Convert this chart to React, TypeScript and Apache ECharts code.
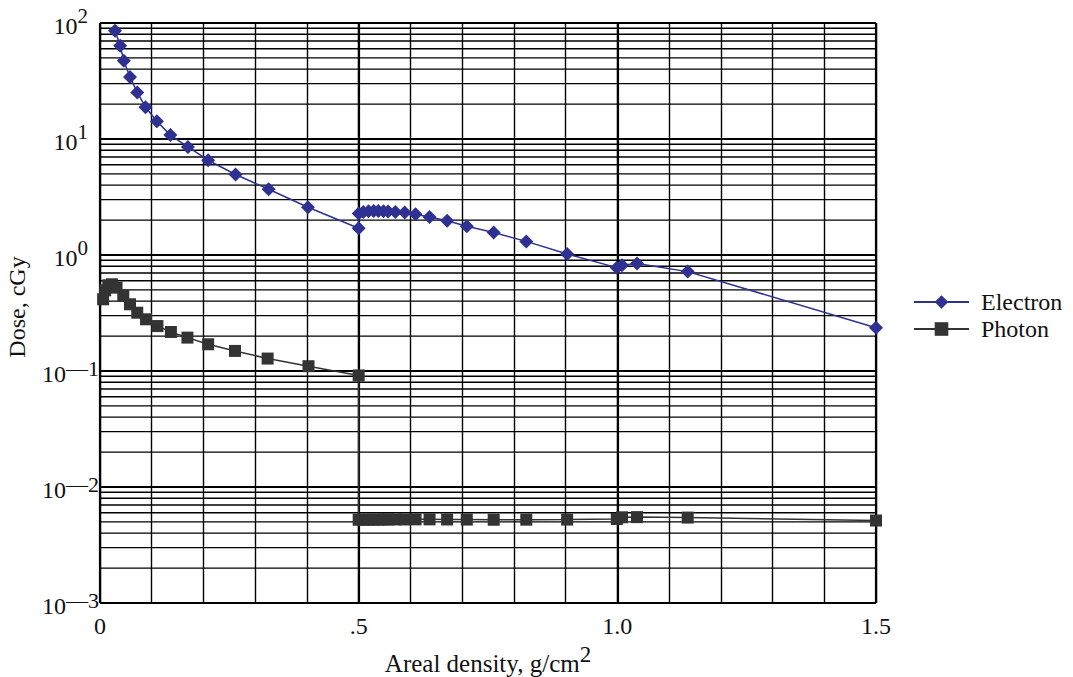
import React, { useEffect, useRef } from "react";
import * as echarts from "echarts";

// Electron dose (cGy) vs areal density (g/cm^2)
const electronX = [0.029, 0.039, 0.046, 0.058, 0.072, 0.088, 0.110, 0.136, 0.170, 0.209, 0.262, 0.326, 0.402, 0.500,
  0.500, 0.509, 0.519, 0.529, 0.538, 0.548, 0.557, 0.571, 0.589, 0.610, 0.637, 0.671, 0.709, 0.761, 0.824, 0.903,
  0.999, 1.009, 1.038, 1.136, 1.500];
const electronY = [85.7, 63.6, 47.2, 34.3, 25.2, 18.8, 14.2, 10.8, 8.55, 6.56, 4.94, 3.69, 2.58, 1.70,
  2.28, 2.35, 2.38, 2.40, 2.40, 2.38, 2.37, 2.35, 2.32, 2.24, 2.13, 1.97, 1.77, 1.56, 1.31, 1.02,
  0.778, 0.815, 0.843, 0.719, 0.236];

// Photon dose (cGy) vs areal density (g/cm^2)
const photonX = [0.006, 0.010, 0.016, 0.023, 0.032, 0.045, 0.058, 0.072, 0.089, 0.111, 0.137, 0.169, 0.209, 0.261,
  0.324, 0.403, 0.500,
  0.500, 0.509, 0.519, 0.529, 0.538, 0.548, 0.557, 0.571, 0.589, 0.610, 0.637, 0.671, 0.709, 0.761, 0.824, 0.903,
  0.999, 1.009, 1.038, 1.136, 1.500];
const photonY = [0.415, 0.496, 0.548, 0.559, 0.523, 0.443, 0.376, 0.318, 0.279, 0.244, 0.217, 0.194, 0.170, 0.149,
  0.128, 0.110, 0.0916,
  0.00522, 0.00522, 0.00523, 0.00523, 0.00524, 0.00524, 0.00525, 0.00525, 0.00525, 0.00526, 0.00526, 0.00525,
  0.00524, 0.00522, 0.00523, 0.00524,
  0.00530, 0.00548, 0.00550, 0.00545, 0.00514];

// Log-scale minor gridlines: multipliers 2..9 within each decade
const minorMultipliers = [2, 3, 4, 5, 6, 7, 8, 9];
const decadeExponents = [-3, -2, -1, 0, 1];

const xTickLabels: Record<string, string> = { "0": "0", "0.5": ".5", "1": "1.0", "1.5": "1.5" };

const SERIF = "Liberation Serif";

export default function App() {
  const ref = useRef<HTMLDivElement>(null);

  useEffect(() => {
    if (!ref.current) return;
    const chart = echarts.init(ref.current, null, { renderer: "svg" });

    const minorValues: number[] = [];
    decadeExponents.forEach((e) => {
      minorMultipliers.forEach((m) => {
        minorValues.push(parseFloat((m * Math.pow(10, e)).toPrecision(6)));
      });
    });

    const gridColor = "#000000";

    chart.setOption({
      animation: false,
      backgroundColor: "#ffffff",
      textStyle: { fontFamily: SERIF },
      grid: { left: 100, top: 23, width: 776, height: 580, containLabel: false, outerBoundsMode: "none" },
      legend: {
        data: ["Electron", "Photon"],
        orient: "vertical",
        left: 913,
        top: 290,
        padding: 0,
        itemWidth: 55,
        itemHeight: 17,
        itemGap: 3,
        textStyle: { fontFamily: SERIF, fontSize: 24, color: "#111", padding: [0, 0, 0, 7] },
      },
      xAxis: [
        {
          type: "value",
          min: 0,
          max: 1.5,
          interval: 0.1,
          axisLine: { show: false },
          axisTick: { show: false },
          splitLine: { show: true, lineStyle: { color: gridColor, width: 1.4 } },
          axisLabel: {
            margin: 11,
            fontFamily: SERIF,
            fontSize: 24,
            color: "#111",
            formatter: (v: number) => {
              const k = Math.round(v * 10) / 10;
              const key = String(k);
              return xTickLabels[key] !== undefined ? xTickLabels[key] : "";
            },
          },
          name: "{a|Areal density, g/cm}{s|2}",
          nameLocation: "middle",
          nameGap: 32,
          nameTextStyle: {
            rich: {
              a: { fontFamily: SERIF, fontSize: 25, color: "#111", lineHeight: 25, padding: [8, 0, 0, 0] },
              s: { fontFamily: SERIF, fontSize: 23, color: "#111", lineHeight: 23, padding: [0, 0, 10, 0] },
            },
          },
        },
        {
          type: "value",
          min: 0,
          max: 1.5,
          interval: 0.5,
          position: "bottom",
          axisLine: { show: false },
          axisTick: { show: false },
          axisLabel: { show: false },
          splitLine: { show: true, lineStyle: { color: "#000", width: 2.2 } },
        },
      ],
      yAxis: {
        type: "log",
        logBase: 10,
        min: 0.001,
        max: 100,
        splitNumber: 5,
        axisLine: { show: false },
        axisTick: { show: false },
        splitLine: { show: true, lineStyle: { color: "#000", width: 2.2 } },
        axisLabel: {
          margin: 1,
          formatter: (v: number) => {
            const e = Math.round(Math.log10(v));
            if (e >= 0) return `{b|10}{p|${e}}`;
            return `{b|10}{n|\u2014${-e}}`;
          },
          rich: {
            b: { fontFamily: SERIF, fontSize: 24, color: "#111", lineHeight: 24, padding: [6, 0, 0, 0] },
            p: { fontFamily: SERIF, fontSize: 21, color: "#111", lineHeight: 20, padding: [0, 11, 14, 0] },
            n: { fontFamily: SERIF, fontSize: 22, color: "#111", lineHeight: 22, padding: [0, 0, 6, 0] },
          },
        },
        name: "Dose, cGy",
        nameLocation: "middle",
        nameGap: 71,
        nameRotate: 90,
        nameTextStyle: { fontFamily: SERIF, fontSize: 24, color: "#111", padding: [0, 0, 0, 12] },
      },
      series: [
        {
          name: "grid-minor",
          type: "custom",
          z: 1,
          silent: true,
          data: minorValues.map((v) => [0, v]),
          encode: { x: 0, y: 1 },
          renderItem: (params: any, api: any) => {
            const cs = params.coordSys;
            const p = api.coord([0, api.value(1)]);
            return {
              type: "line",
              shape: { x1: cs.x, y1: p[1], x2: cs.x + cs.width, y2: p[1] },
              style: { stroke: gridColor, lineWidth: 1.4 },
            };
          },
        },
        {
          name: "Photon",
          type: "line",
          z: 3,
          data: photonX.map((x, i) => [x, photonY[i]]),
          symbol: "rect",
          symbolSize: 12,
          color: "#333333",
          itemStyle: { color: "#333333" },
          lineStyle: { color: "#333333", width: 1.5 },
        },
        {
          name: "Electron",
          type: "line",
          z: 4,
          data: electronX.map((x, i) => [x, electronY[i]]),
          symbol: "diamond",
          symbolSize: 14,
          color: "#2e3192",
          itemStyle: { color: "#2e3192" },
          lineStyle: { color: "#2e3192", width: 1.5 },
        },
      ],
    });

    return () => chart.dispose();
  }, []);

  return <div ref={ref} style={{ width: 1073, height: 677, position: "absolute", left: 0, top: 0 }} />;
}
